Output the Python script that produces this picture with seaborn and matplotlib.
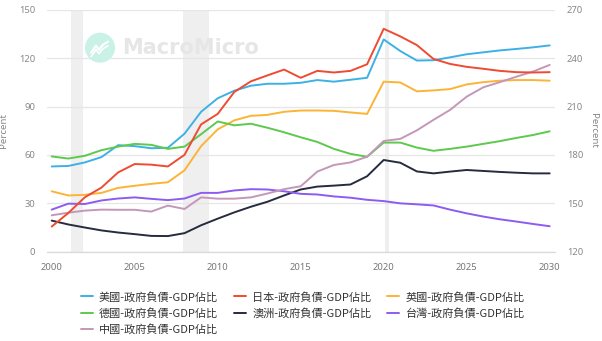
import matplotlib
matplotlib.use("Agg")
import numpy as np
import pandas as pd
import seaborn as sns
import matplotlib.pyplot as plt
from matplotlib.lines import Line2D
from matplotlib.patches import Circle

years = list(range(2000, 2031))

us = [52.9, 53.2, 55.4, 58.7, 66.1, 65.5, 64.2, 64.5, 73.2, 86.8, 95.2, 99.9, 103.0, 104.2, 104.2, 104.8,
      106.5, 105.5, 106.7, 107.9, 131.7, 124.5, 118.6, 118.8, 120.6, 122.5, 123.7, 124.9, 125.8, 126.8, 128.0]
japan = [135.6, 144.0, 153.8, 159.8, 169.2, 174.4, 174.0, 172.9, 180.1, 199.0, 205.5, 219.1, 225.7, 229.4, 233.0, 227.9,
         232.2, 231.2, 232.2, 236.3, 258.3, 253.6, 248.2, 239.6, 236.5, 234.7, 233.5, 232.2, 231.4, 231.2, 231.4]
uk = [37.5, 34.9, 35.3, 36.5, 39.6, 40.9, 42.1, 43.1, 50.5, 65.5, 75.9, 81.5, 84.3, 84.9, 86.8, 87.6,
      87.6, 87.4, 86.4, 85.5, 105.5, 105.0, 99.5, 100.1, 100.9, 103.8, 105.2, 106.1, 106.5, 106.5, 106.1]
germany = [59.1, 57.8, 59.5, 63.0, 65.2, 66.9, 66.3, 63.8, 65.2, 72.9, 80.8, 78.4, 79.4, 76.9, 74.1, 71.0,
           68.1, 63.8, 60.7, 58.9, 67.7, 67.7, 64.6, 62.6, 63.8, 65.2, 66.9, 68.6, 70.6, 72.4, 74.7]
australia = [19.3, 16.9, 15.0, 13.2, 11.9, 10.9, 9.8, 9.7, 11.5, 16.4, 20.5, 24.4, 27.9, 31.0, 34.9, 38.6,
             40.4, 41.0, 41.7, 46.8, 56.9, 55.2, 49.8, 48.6, 49.7, 50.7, 50.1, 49.5, 49.0, 48.6, 48.6]
taiwan = [26.1, 29.8, 29.6, 31.8, 33.0, 33.7, 32.8, 32.0, 33.0, 36.5, 36.5, 38.0, 38.8, 38.6, 37.5, 35.9,
          35.5, 34.3, 33.5, 32.2, 31.4, 30.0, 29.4, 28.7, 26.1, 23.8, 21.8, 20.1, 18.7, 17.2, 15.8]
china = [22.6, 24.2, 25.5, 26.1, 26.0, 26.0, 24.9, 28.6, 26.5, 33.7, 32.9, 32.9, 33.7, 36.1, 38.8, 40.6,
         49.7, 53.8, 55.4, 58.9, 68.7, 70.0, 75.3, 81.8, 88.0, 96.2, 102.0, 105.2, 108.6, 111.8, 115.9]

labels = ["美國-政府負債-GDP佔比", "日本-政府負債-GDP佔比", "英國-政府負債-GDP佔比",
          "德國-政府負債-GDP佔比", "澳洲-政府負債-GDP佔比", "台灣-政府負債-GDP佔比",
          "中國-政府負債-GDP佔比"]
colors = ["#3db1e5", "#ee4b32", "#fbb436", "#5dc94d", "#262b3d", "#8c5cf2", "#c497b9"]
recessions = [(2001.17, 2001.9), (2007.92, 2009.47), (2020.1, 2020.33)]

left_series = {labels[0]: us, labels[2]: uk, labels[3]: germany, labels[4]: australia,
               labels[5]: taiwan, labels[6]: china}
right_series = {labels[1]: japan}

df_left = pd.DataFrame([(y, k, v) for k, vals in left_series.items() for y, v in zip(years, vals)],
                       columns=["year", "series", "value"])
df_right = pd.DataFrame([(y, k, v) for k, vals in right_series.items() for y, v in zip(years, vals)],
                        columns=["year", "series", "value"])
palette = dict(zip(labels, colors))

sns.set_style("white")
plt.rcParams["font.family"] = ["Noto Sans CJK TC", "DejaVu Sans"]

W, H = 602, 341
fig = plt.figure(figsize=(W / 100, H / 100), dpi=100)
ax_l, ax_r, ax_t, ax_b = 47, 555, 9.95, 251.7
ax = fig.add_axes([ax_l / W, 1 - ax_b / H, (ax_r - ax_l) / W, (ax_b - ax_t) / H])
ax2 = ax.twinx()

# watermark (decoration)
cx, cy = 100, H - 47.7
fig.patches.append(Circle((cx, cy), 15, transform=None, facecolor="#c9f1e6", edgecolor="none", zorder=0))
fig.add_artist(Line2D([cx - 9, cx - 4, cx - 1, cx + 3, cx + 8], [cy - 5, cy + 2, cy - 2, cy + 3, cy + 6],
                      transform=None, color="white", lw=1.6, zorder=0.5))
fig.add_artist(Line2D([cx - 9, cx - 4, cx - 1, cx + 3, cx + 8], [cy - 9, cy - 2, cy - 6, cy - 1, cy + 2],
                      transform=None, color="white", lw=1.2, zorder=0.5))
fig.text(122 / W, 1 - 48 / H, "MacroMicro", fontsize=15, color="#e6e6e6", va="center", ha="left",
         family="DejaVu Sans", fontweight="bold", zorder=0)

for a, b in recessions:
    ax.axvspan(a, b, color="#efefef", lw=0, zorder=0)

sns.lineplot(data=df_left, x="year", y="value", hue="series", palette=palette, ax=ax,
             legend=False, linewidth=1.4)
sns.lineplot(data=df_right, x="year", y="value", hue="series", palette=palette, ax=ax2,
             legend=False, linewidth=1.4)

ax.set_xlim(1999.717, 2030.32)
ax.set_ylim(0, 150)
ax2.set_ylim(120, 270)
ax.set_yticks(range(0, 151, 30))
ax2.set_yticks(range(120, 271, 30))
ax.set_xticks(range(2000, 2031, 5))
ax.grid(axis="y", color="#e6e6e6", lw=0.9)
ax.set_axisbelow(True)
for a in (ax, ax2):
    for s in ["top", "left", "right", "bottom"]:
        a.spines[s].set_visible(False)
ax.spines["bottom"].set_visible(True)
ax.spines["bottom"].set_color("#d9d9d9")
ax.spines["bottom"].set_linewidth(0.9)

ax.tick_params(axis="x", length=3, color="#cccccc", pad=5, labelsize=6.8, labelcolor="#777777")
ax.tick_params(axis="y", length=0, pad=8.5, labelsize=6.8, labelcolor="#888888")
ax2.tick_params(axis="y", length=0, pad=8.5, labelsize=6.8, labelcolor="#888888")
for lab in ax.get_xticklabels() + ax.get_yticklabels() + ax2.get_yticklabels():
    lab.set_family("Noto Sans")

ax.set_xlabel("")
ax.set_ylabel("Percent", fontsize=7, color="#888888", family="Noto Sans", labelpad=8)
ax2.set_ylabel("Percent", fontsize=7, color="#888888", family="Noto Sans", rotation=270, labelpad=11)

order = [0, 3, 6, 1, 4, 2, 5]
handles = [Line2D([], [], color=colors[i], lw=1.4) for i in order]
leg = fig.legend(handles, [labels[i] for i in order], ncol=3, loc="upper left",
                 bbox_to_anchor=(80.7 / W, 1 - 291.5 / H), frameon=False, fontsize=8,
                 handlelength=1.08, handletextpad=0.55, columnspacing=1.45,
                 labelspacing=0.5, borderpad=0, borderaxespad=0)
for t in leg.get_texts():
    t.set_color("#333333")

fig.savefig("out.png", dpi=100)
